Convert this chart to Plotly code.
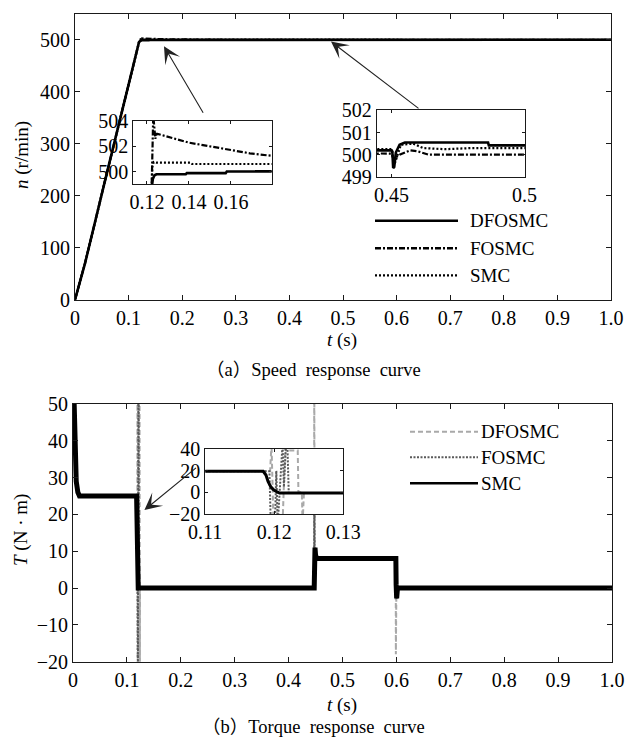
import plotly.graph_objects as go

# ---------------- (a) Speed response data ----------------
spd_dfosmc_t = [0, 0.0187, 0.06, 0.1195, 0.1215, 0.1222, 0.1228, 0.1236, 0.1245, 0.1385, 0.139,
                0.1575, 0.158, 0.30, 0.45, 0.4503, 0.4506, 0.4510, 0.4516, 0.4530, 0.4550,
                0.4863, 0.4866, 1.0]
spd_dfosmc_n = [0, 70, 246, 496, 497.8, 498.6, 499.4, 499.7, 499.78, 499.78, 499.87,
                499.87, 500.0, 500.1, 500.2, 500.1, 499.4, 499.45, 500.1, 500.45, 500.55,
                500.55, 500.42, 500.42]

spd_fosmc_t = [0, 0.0187, 0.06, 0.1195, 0.1222, 0.1230, 0.1235, 0.1240, 0.1245, 0.1250, 0.140,
               0.156, 0.169, 0.1794, 0.30, 0.45, 0.4507, 0.453, 0.457, 0.460, 0.464, 1.0]
spd_fosmc_n = [0, 70, 246, 496, 498.5, 504.5, 503.6, 502.6, 503.0, 503.0, 502.3,
               501.8, 501.45, 501.25, 500.2, 500.05, 499.8, 500.0, 500.2, 500.15, 500.0, 500.0]

spd_smc_t = [0, 0.0187, 0.06, 0.1195, 0.1222, 0.1226, 0.1232, 0.1245, 0.141, 0.1415, 0.1794,
             0.30, 0.45, 0.4503, 0.4507, 0.4512, 0.4535, 0.458, 0.462, 0.470, 0.480, 0.50, 1.0]
spd_smc_n = [0, 70, 246, 496, 498.5, 500.4, 500.75, 500.7, 500.7, 500.6, 500.6,
             500.3, 500.25, 500.2, 499.55, 499.6, 500.45, 500.5, 500.3, 500.25, 500.3, 500.3, 500.3]

# ---------------- (b) Torque response data ----------------
trq_smc_t = [0, 0.002, 0.004, 0.006, 0.009, 0.012, 0.118, 0.1188, 0.1195, 0.1202, 0.121,
             0.4475, 0.4480, 0.4490, 0.4500, 0.4520, 0.599, 0.5995, 0.6005, 0.602, 1.0]
trq_smc = [62, 48, 35, 29, 26, 25, 25, 18, 9, 3, 0,
           0, 6, 11, 9, 8, 8, 1, -2.8, 0, 0]

trq_dfosmc_t = [0, 0.002, 0.004, 0.006, 0.009, 0.012, 0.1194, 0.1196, 0.1199, 0.1212, 0.1216,
                0.1234, 0.1241, 0.1243, 0.4472, 0.4476, 0.4482, 0.4488, 0.452, 0.5988,
                0.599, 0.5995, 0.600, 1.0]
trq_dfosmc = [62, 48, 35, 29, 26, 25, 25, 62, -30, -30, 62,
              62, -30, 0, 0, 62, 15, 9, 8, 8,
              -18, 0, 0, 0]

trq_fosmc_t = [0, 0.002, 0.004, 0.006, 0.009, 0.012, 0.1193, 0.1195, 0.1201, 0.1204, 0.1212,
               0.1219, 0.1221, 0.4474, 0.4478, 0.4484, 0.452, 0.599, 0.5995, 0.6005, 0.602, 1.0]
trq_fosmc = [62, 48, 35, 29, 26, 25, 25, -30, 25, -30, 50,
             50, 0, 0, 32, 9, 8, 8, 0, -3, 0, 0]

# zoomed detail (inset of (b))
ins_smc_t = [0.11, 0.1184, 0.1188, 0.1191, 0.1195, 0.1199, 0.1204, 0.1208, 0.13]
ins_smc = [19.5, 19.5, 16, 10, 5, 2.2, 0.3, -0.8, -0.8]
ins_fosmc_t = [0.11, 0.1193, 0.1195, 0.1201, 0.1203, 0.1205, 0.1212, 0.1214, 0.1217, 0.1219, 0.1221, 0.13]
ins_fosmc = [19.5, 19.5, -30, -30, 20, -30, 45, 5, 45, 45, -0.8, -0.8]
ins_dfosmc_t = [0.11, 0.1194, 0.1196, 0.1199, 0.1212, 0.1216, 0.1217, 0.1234, 0.1235, 0.1240, 0.1241, 0.1243, 0.13]
ins_dfosmc = [19.5, 19.5, 45, -30, -30, 45, 39, 39, 0, 0, -30, -0.8, -0.8]

# ticks
main_x_ticks = [0, 0.1, 0.2, 0.3, 0.4, 0.5, 0.6, 0.7, 0.8, 0.9, 1.0]
main_x_text = ["0", "0.1", "0.2", "0.3", "0.4", "0.5", "0.6", "0.7", "0.8", "0.9", "1.0"]
spd_y_ticks = [0, 100, 200, 300, 400, 500]
trq_y_ticks = [-20, -10, 0, 10, 20, 30, 40, 50]

legend_names = ["DFOSMC", "FOSMC", "SMC"]

W, H = 625, 743
FONT = "Liberation Serif"
CAP_FONT = "Liberation Serif, Noto Sans CJK SC"
INK = "#1a1a1a"

def px(x):
    return x / W

def py(y):
    return 1 - y / H

fig = go.Figure()

DOT = "2px,2px"
DASHDOT = "6px,2px,2px,2px"

# ---- (a) main + insets: same series drawn on three axis pairs
for xa, ya, w in [("x", "y", 2.2), ("x2", "y2", 2.2), ("x3", "y3", 2.2)]:
    fig.add_trace(go.Scatter(x=spd_smc_t, y=spd_smc_n, mode="lines", xaxis=xa, yaxis=ya,
                             line=dict(color="black", width=w, dash=DOT), showlegend=False))
    fig.add_trace(go.Scatter(x=spd_fosmc_t, y=spd_fosmc_n, mode="lines", xaxis=xa, yaxis=ya,
                             line=dict(color="black", width=w, dash=DASHDOT), showlegend=False))
    fig.add_trace(go.Scatter(x=spd_dfosmc_t, y=spd_dfosmc_n, mode="lines", xaxis=xa, yaxis=ya,
                             line=dict(color="black", width=w + 0.4), showlegend=False))

GREY_L = "#a9a9a9"
GREY_D = "#5a5a5a"
# ---- (b) main
fig.add_trace(go.Scatter(x=trq_dfosmc_t, y=trq_dfosmc, mode="lines", xaxis="x4", yaxis="y4",
                         line=dict(color=GREY_L, width=2, dash="5px,3px"), showlegend=False))
fig.add_trace(go.Scatter(x=trq_fosmc_t, y=trq_fosmc, mode="lines", xaxis="x4", yaxis="y4",
                         line=dict(color=GREY_D, width=2, dash="2px,1.5px"), showlegend=False))
fig.add_trace(go.Scatter(x=trq_smc_t, y=trq_smc, mode="lines", xaxis="x4", yaxis="y4",
                         line=dict(color="black", width=5), showlegend=False))
# ---- (b) inset
fig.add_trace(go.Scatter(x=ins_dfosmc_t, y=ins_dfosmc, mode="lines", xaxis="x5", yaxis="y5",
                         line=dict(color=GREY_L, width=2, dash="5px,3px"), showlegend=False))
fig.add_trace(go.Scatter(x=ins_fosmc_t, y=ins_fosmc, mode="lines", xaxis="x5", yaxis="y5",
                         line=dict(color=GREY_D, width=2, dash="2px,1.5px"), showlegend=False))
fig.add_trace(go.Scatter(x=ins_smc_t, y=ins_smc, mode="lines", xaxis="x5", yaxis="y5",
                         line=dict(color="black", width=3), showlegend=False))

def axis(domain, rng, anchor, tickvals, ticktext=None, ticklen=5):
    d = dict(domain=domain, range=rng, anchor=anchor, showgrid=False, zeroline=False,
             automargin=False,
             showline=True, linecolor=INK, linewidth=1, mirror="ticks", ticks="inside",
             ticklen=ticklen, tickwidth=1, tickcolor=INK, tickvals=tickvals,
             tickfont=dict(family=FONT, size=20, color="black"))
    if ticktext is not None:
        d["ticktext"] = ticktext
    return d

layout = dict(
    template="none",
    width=W, height=H, autosize=False,
    margin=dict(l=0, r=0, t=0, b=0, pad=0, autoexpand=False),
    paper_bgcolor="white", plot_bgcolor="white",
    showlegend=False,
    font=dict(family=FONT, color="black"),
    xaxis=axis([px(75), px(611)], [0, 1.0], "y", main_x_ticks, main_x_text),
    yaxis=axis([py(299.7), py(14)], [0, 550], "x", spd_y_ticks),
    xaxis2=axis([px(133.3), px(271.7)], [0.1135, 0.1794], "y2", [0.12, 0.14, 0.16], None, 3),
    yaxis2=axis([py(184.3), py(120.7)], [498.98, 504.05], "x2", [500, 502, 504], None, 3),
    xaxis3=axis([px(376.7), px(525)], [0.4444, 0.5002], "y3", [0.45, 0.5], ["0.45", "0.5"], 3),
    yaxis3=axis([py(177.3), py(110)], [498.98, 502.02], "x3", [499, 500, 501, 502], None, 3),
    xaxis4=axis([px(73), px(612)], [0, 1.0], "y4", main_x_ticks, main_x_text),
    yaxis4=axis([py(661.7), py(404)], [-20, 50], "x4", trq_y_ticks),
    xaxis5=axis([px(205.2), px(343.3)], [0.11, 0.13], "y5", [0.11, 0.12, 0.13], None, 3),
    yaxis5=axis([py(514), py(449)], [-20.3, 40.3], "x5", [-20, 0, 20, 40], None, 3),
)
fig.update_layout(**layout)

ann = []
def text(x, y, s, size=20, xanchor="center", yanchor="middle", angle=0, family=FONT):
    ann.append(dict(x=px(x), y=py(y), xref="paper", yref="paper", text=s, showarrow=False,
                    xanchor=xanchor, yanchor=yanchor, textangle=angle,
                    font=dict(family=family, size=size, color="black")))

text(342, 340, "<i>t</i> (s)", size=19)
text(342, 705, "<i>t</i> (s)", size=19)
text(22, 155, "<i>n</i> (r/min)", size=19, angle=-90)
text(21, 530, "<i>T</i> (N · m)", size=19, angle=-90)
text(313, 370, "（a）Speed  response  curve", size=18.5, family=CAP_FONT)
text(313, 727, "（b）Torque  response  curve", size=18.5, family=CAP_FONT)

# arrows pointing from insets to the zoomed regions
def arrow(xref, yref, tip, tail):
    ann.append(dict(x=tip[0], y=tip[1], ax=tail[0], ay=tail[1], xref=xref, yref=yref,
                    axref=xref, ayref=yref, text="", showarrow=True, arrowhead=3,
                    arrowsize=2.6, arrowwidth=1.1, arrowcolor="#222"))

arrow("x", "y", (0.166, 488), (0.2407, 357))
arrow("x", "y", (0.4776, 497), (0.6437, 366))
arrow("x4", "y4", (0.1325, 21.2), (0.231, 33.0))

# legends (drawn manually, no box)
shapes = []
top_leg = [("black", 2.6, "solid"), ("black", 2.4, DASHDOT), ("black", 2.2, DOT)]
for (c, w, d), name, y in zip(top_leg, legend_names, [220.7, 248.3, 275.3]):
    shapes.append(dict(type="line", xref="paper", yref="paper", x0=px(375), x1=px(458),
                       y0=py(y), y1=py(y), line=dict(color=c, width=w, dash=d)))
    text(468, y, name, size=19, xanchor="left")
bot_leg = [(GREY_L, 2, "5px,3px"), (GREY_D, 2, "2px,1.5px"), ("black", 2.4, "solid")]
for (c, w, d), name, y in zip(bot_leg, legend_names, [431.7, 457.3, 483.3]):
    shapes.append(dict(type="line", xref="paper", yref="paper", x0=px(410), x1=px(478),
                       y0=py(y), y1=py(y), line=dict(color=c, width=w, dash=d)))
    text(479, y, name, size=19, xanchor="left")

fig.update_layout(annotations=ann, shapes=shapes)
fig.write_html(
    "out.html",
    config={"displayModeBar": False, "staticPlot": True},
    post_script=(
        "document.documentElement.style.overflow='hidden';"
        "document.body.style.overflow='hidden';"
        "document.body.style.margin='0';"
    ),
)
